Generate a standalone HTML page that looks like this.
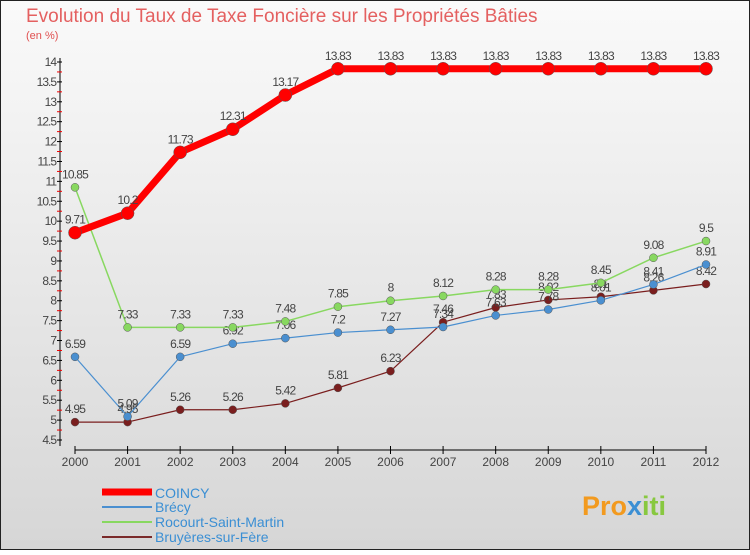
<!DOCTYPE html>
<html><head><meta charset="utf-8"><style>
body{margin:0;width:750px;height:550px;overflow:hidden;font-family:"Liberation Sans",sans-serif}
</style></head><body>
<svg width="750" height="550" xmlns="http://www.w3.org/2000/svg" id="chart">
<defs><linearGradient id="bg" x1="0" y1="0" x2="0" y2="1"><stop offset="0" stop-color="#fafafa"/><stop offset="1" stop-color="#d6d6d6"/></linearGradient></defs>
<rect x="0.5" y="0.5" width="749" height="549" fill="url(#bg)" stroke="#222"/>
<text x="26" y="22" font-size="19" fill="#e46060">Evolution du Taux de Taxe Foncière sur les Propriétés Bâties</text>
<text x="26" y="39" font-size="11" fill="#e05050">(en %)</text>
<g id="axes"></g><g id="series"></g>
<g>
<line x1="102" y1="492" x2="152" y2="492" stroke="#f00" stroke-width="7"/>
<text x="155" y="498" font-size="14" fill="#3b8fd4">COINCY</text>
<line x1="102" y1="507" x2="152" y2="507" stroke="#4a8fd0" stroke-width="2"/>
<text x="155" y="512" font-size="14" fill="#3b8fd4">Brécy</text>
<line x1="102" y1="522" x2="152" y2="522" stroke="#88d860" stroke-width="2"/>
<text x="155" y="527" font-size="14" fill="#3b8fd4">Rocourt-Saint-Martin</text>
<line x1="102" y1="537" x2="152" y2="537" stroke="#7a2a2a" stroke-width="2"/>
<text x="155" y="542" font-size="14" fill="#3b8fd4">Bruyères-sur-Fère</text>
</g>
<text x="582" y="515" font-size="27" font-weight="bold" fill="#f29a1f">Pro<tspan fill="#3b8fd4">x</tspan><tspan fill="#88c840">iti</tspan></text>
</svg>
<script>
const years=[2000,2001,2002,2003,2004,2005,2006,2007,2008,2009,2010,2011,2012];
const coincy=[9.71,10.2,11.73,12.31,13.17,13.83,13.83,13.83,13.83,13.83,13.83,13.83,13.83];
const brecy=[6.59,5.09,6.59,6.92,7.06,7.2,7.27,7.34,7.63,7.78,8.01,8.41,8.91];
const rocourt=[10.85,7.33,7.33,7.33,7.48,7.85,8,8.12,8.28,8.28,8.45,9.08,9.5];
const bruyeres=[4.95,4.95,5.26,5.26,5.42,5.81,6.23,7.46,7.83,8.02,8.1,8.26,8.42];
const yTicks=[4.5,5,5.5,6,6.5,7,7.5,8,8.5,9,9.5,10,10.5,11,11.5,12,12.5,13,13.5,14];
const NS="http://www.w3.org/2000/svg";
const X=i=>75+i*(706-75)/(years.length-1);
const Y=v=>440-(v-4.5)*(440-62)/9.5;
function mk(t,a,p){const e=document.createElementNS(NS,t);for(const k in a)e.setAttribute(k,a[k]);p.appendChild(e);return e;}
const ax=document.getElementById('axes');
let l=mk('line',{x1:60,y1:58,x2:60,y2:446,stroke:'#000'},ax);


yTicks.forEach((v,k)=>{
 mk('line',{x1:57,y1:Y(v),x2:62,y2:Y(v),stroke:'#000'},ax);
 if(k<yTicks.length-1) mk('line',{x1:57,y1:Y(v+0.25),x2:62,y2:Y(v+0.25),stroke:'#e00'},ax);
 const t=mk('text',{x:56,y:Y(v)+4,'font-size':12,'text-anchor':'end',fill:'#444','letter-spacing':'-1'},ax);t.textContent=v;
 
 
});
l=mk('line',{x1:75,y1:450,x2:706,y2:450,stroke:'#000'},ax);


years.forEach((y,i)=>{
 mk('line',{x1:X(i),y1:446,x2:X(i),y2:454,stroke:'#000'},ax);
 const t=mk('text',{x:X(i),y:466,'font-size':12,'text-anchor':'middle',fill:'#444'},ax);t.textContent=y;
 
 
});
const sg=document.getElementById('series');
function draw(name,vals,col,w,r){
 const g=mk('g',{},sg);
 
 
 const p=mk('polyline',{points:vals.map((v,i)=>X(i)+','+Y(v)).join(' '),fill:'none',stroke:col,'stroke-width':w,'stroke-linejoin':'round'},g);
 
 
 vals.forEach((v,i)=>{
  const c=mk('circle',{cx:X(i),cy:Y(v),r:r,fill:col,stroke:'#555','stroke-width':0.5},g);
  
  
  const t=mk('text',{x:X(i),y:Y(v)-9,'font-size':12,'text-anchor':'middle',fill:'#444','letter-spacing':'-0.8'},g);t.textContent=v;
  
  
 });
}
draw('bruyeres',bruyeres,'#7a1e1e',1.2,4);
draw('brecy',brecy,'#4a8fd0',1.2,4);
draw('rocourt',rocourt,'#88d860',1.5,4);
draw('coincy',coincy,'#f00',7,6.5);
</script>
</body></html>
